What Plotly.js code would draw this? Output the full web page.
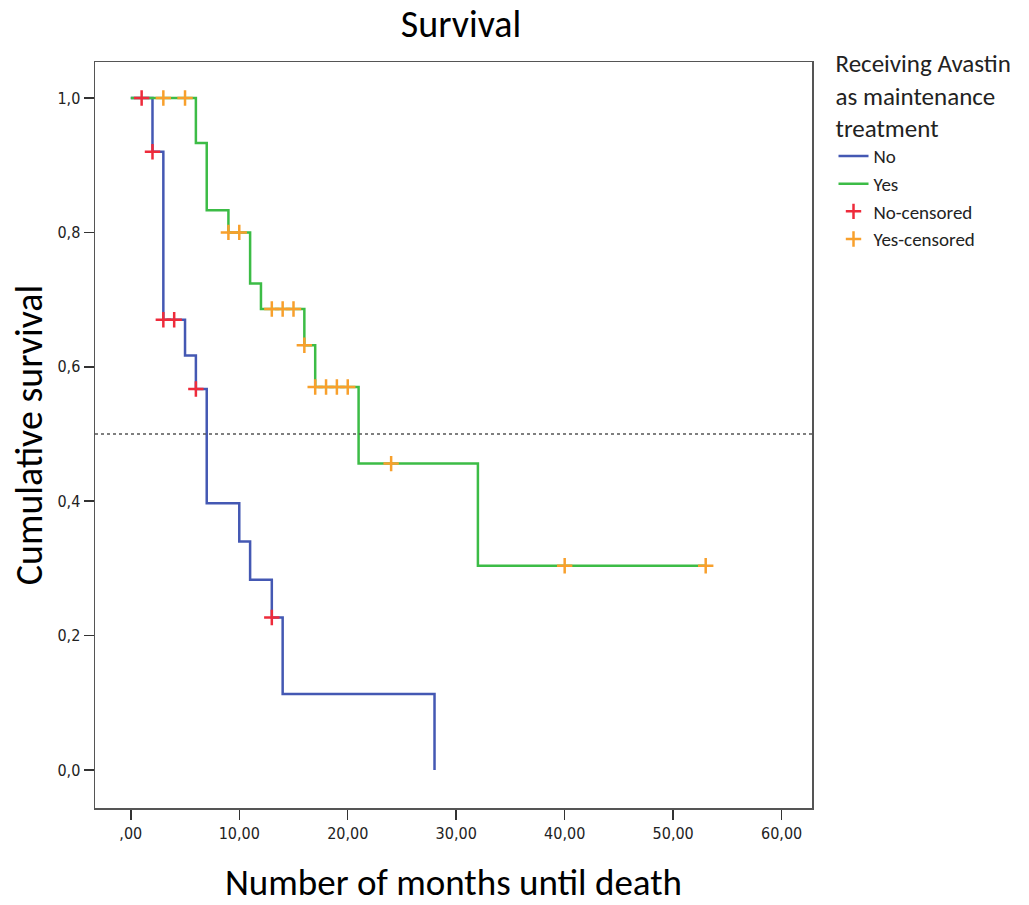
<!DOCTYPE html>
<html>
<head>
<meta charset="utf-8">
<script src="https://cdn.plot.ly/plotly-3.0.1.min.js"></script>
<style>html,body{margin:0;padding:0;background:#fff;}#chart{width:1029px;height:905px;}</style>
</head>
<body>
<div id="chart"></div>
<script>
// Step-curve data (time in months, cumulative survival)
const noTimes = [0, 2, 3, 5, 6, 7, 10, 11, 13, 14, 28];
const noSurv  = [1.0, 0.92, 0.67, 0.617, 0.567, 0.397, 0.34, 0.283, 0.227, 0.113, 0.0];
const yesTimes = [0, 6, 7, 9, 11, 12, 16, 17, 21, 32, 53];
const yesSurv  = [1.0, 0.933, 0.833, 0.80, 0.724, 0.686, 0.632, 0.57, 0.456, 0.304, 0.304];
// Censored observations
const noCensTimes = [1, 2, 3, 4, 6, 13];
const noCensSurv  = [1.0, 0.92, 0.67, 0.67, 0.567, 0.227];
const yesCensTimes = [3, 5, 9, 10, 13, 14, 15, 16, 17, 18, 19, 20, 24, 40, 53];
const yesCensSurv  = [1.0, 1.0, 0.80, 0.80, 0.686, 0.686, 0.686, 0.632, 0.57, 0.57, 0.57, 0.57, 0.456, 0.304, 0.304];
// Tick labels
const xTickVals = [0, 10, 20, 30, 40, 50, 60];
const xTickText = [",00", "10,00", "20,00", "30,00", "40,00", "50,00", "60,00"];
const yTickVals = [0, 0.2, 0.4, 0.6, 0.8, 1.0];
const yTickText = ["0,0", "0,2", "0,4", "0,6", "0,8", "1,0"];
const medianLevel = 0.5;

const font = "Carlito, 'Open Sans', 'Noto Sans', sans-serif";
const tickFont = "'Liberation Sans Narrow', 'DejaVu Sans Condensed', 'Liberation Sans', sans-serif";

const traces = [
  {x: noTimes, y: noSurv, name: "No", mode: "lines", line: {shape: "hv", color: "#4458b3", width: 2.5}},
  {x: yesTimes, y: yesSurv, name: "Yes", mode: "lines", line: {shape: "hv", color: "#3cbc46", width: 2.5}},
  {x: noCensTimes, y: noCensSurv, name: "No-censored", mode: "markers",
   marker: {symbol: "cross-thin", size: 11, color: "#ee2b3b", line: {color: "#ee2b3b", width: 2.5}}},
  {x: yesCensTimes, y: yesCensSurv, name: "Yes-censored", mode: "markers",
   marker: {symbol: "cross-thin", size: 11, color: "#f8a02c", line: {color: "#f8a02c", width: 2.5}}}
];

const layout = {
  width: 1029, height: 905,
  margin: {l: 95, r: 217, t: 62, b: 97},
  paper_bgcolor: "#fff", plot_bgcolor: "#fff",
  title: {text: "Survival", font: {family: font, size: 38, color: "#000"}, x: 0.448, xanchor: "center", y: 0.974, yanchor: "middle"},
  xaxis: {
    range: [-3.3, 62.8], tickvals: xTickVals, ticktext: xTickText,
    ticks: "outside", ticklen: 10, tickwidth: 1.5, tickcolor: "#333",
    showline: true, linecolor: "#555", linewidth: 1.5, mirror: true,
    showgrid: false, zeroline: false,
    tickfont: {family: tickFont, size: 16, color: "#222"},
    title: {text: "Number of months until death", font: {family: font, size: 37, color: "#000"}, standoff: 28}
  },
  yaxis: {
    range: [-0.0565, 1.0536], tickvals: yTickVals, ticktext: yTickText,
    ticks: "outside", ticklen: 10, tickwidth: 1.5, tickcolor: "#333",
    showline: true, linecolor: "#555", linewidth: 1.5, mirror: true,
    showgrid: false, zeroline: false,
    tickfont: {family: tickFont, size: 16, color: "#222"},
    title: {text: "Cumulative survival", font: {family: font, size: 38, color: "#000"}, standoff: 3}
  },
  shapes: [{type: "line", xref: "paper", x0: 0, x1: 1, yref: "y", y0: medianLevel, y1: medianLevel,
            line: {color: "#555", width: 1.5, dash: "dot"}}],
  legend: {
    x: 1.03, xanchor: "left", y: 1.03, yanchor: "top",
    font: {family: font, size: 19, color: "#222"},
    title: {text: "Receiving Avastin<br>as maintenance<br>treatment", font: {family: font, size: 25, color: "#222"}, side: "top"},
    tracegroupgap: 0, itemwidth: 30, bgcolor: "rgba(0,0,0,0)"
  },
  showlegend: true
};

Plotly.newPlot("chart", traces, layout, {displayModeBar: false, staticPlot: true});
</script>
</body>
</html>
